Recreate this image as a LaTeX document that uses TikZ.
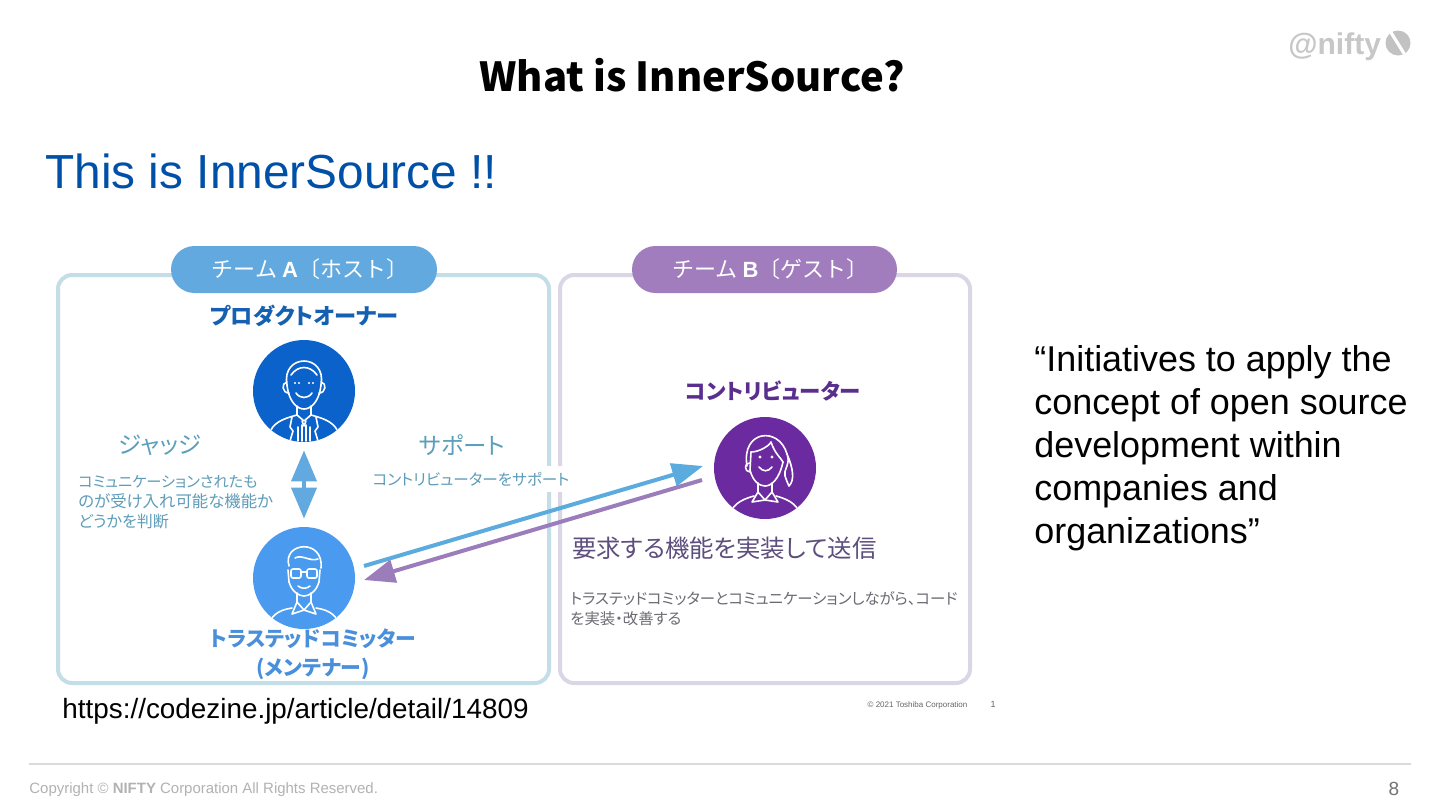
\documentclass[tikz,border=0pt]{standalone}
\usepackage{fontspec}
\usetikzlibrary{arrows.meta}
\setmainfont{Liberation Sans}
\newfontfamily\jpf[RawFeature=+palt]{Noto Sans CJK JP}
\newfontfamily\jpt{Noto Sans CJK JP}
\definecolor{boxa}{HTML}{C4DEE8}
\definecolor{boxb}{HTML}{DAD6E6}
\definecolor{pilla}{HTML}{62A9DF}
\definecolor{pillb}{HTML}{A17DBE}
\definecolor{cpo}{HTML}{0B62CB}
\definecolor{ctc}{HTML}{4A9BF0}
\definecolor{ccb}{HTML}{6B2AA0}
\definecolor{tpo}{HTML}{1560B0}
\definecolor{ttc}{HTML}{4A8FDB}
\definecolor{tcb}{HTML}{5A2E8F}
\definecolor{tlab}{HTML}{5A9FBC}
\definecolor{tbody}{HTML}{5E9CB8}
\definecolor{tgr}{HTML}{5E4E7E}
\definecolor{tgy}{HTML}{6A6A72}
\definecolor{arra}{HTML}{5CABDE}
\definecolor{arrb}{HTML}{9C7DBB}
\definecolor{titleblue}{HTML}{0050A8}
\tikzset{
  x=0.5pt,y=-0.5pt,
  panel/.style={rounded corners=7pt,line width=2pt},
  pill/.style={rounded corners=11.75pt,minimum height=23.5pt,text=white,inner sep=0pt,font=\jpt\fontsize{11}{12}\selectfont},
  person/.style={circle,minimum size=51pt,inner sep=0pt},
  face/.style={draw=white,line width=0.8pt,line cap=round,line join=round},
  jt/.style={inner sep=0pt,align=left,font=\jpf\fontsize{7.6}{10}\selectfont},
  lab/.style={inner sep=0pt,text=tlab,font=\jpf\fontsize{11.7}{13}\selectfont},
  qt/.style={inner sep=0pt,anchor=base west,font=\fontsize{17.95}{20}\selectfont},
}
\begin{document}
\begin{tikzpicture}
\useasboundingbox (0,0) rectangle (1440,810);
\fill[white] (0,0) rectangle (1440,810);
% header
\node[inner sep=0pt,font=\jpt\bfseries\fontsize{20}{26}\selectfont] (title) at (692,75) {What is InnerSource?};
\node[inner sep=0pt,anchor=base west,text=titleblue,font=\fontsize{23.9}{28}\selectfont] (sub) at (45,188) {This is InnerSource !!};
\node[inner sep=0pt,anchor=base west,text=black!22,font=\bfseries\fontsize{15}{18}\selectfont] (logo) at (1288,54) {@nifty};
\node[circle,fill=black!24,minimum size=12.5pt,inner sep=0pt] (logoc) at (1398,43) {};
\draw[white,line width=1.6pt] (1390,31) -- (1405,55);
% panels
\draw[panel,boxa] (58,275) rectangle (549,683);
\draw[panel,boxb] (560,275) rectangle (970,683);
\node[pill,fill=pilla,minimum width=133pt] (pa) at (304,269.5) {\hspace*{6pt}チーム {\rmfamily\bfseries A}〔ホスト〕};
\node[pill,fill=pillb,minimum width=132.5pt] (pb) at (764.5,269.5) {\hspace*{6pt}チーム {\rmfamily\bfseries B}〔ゲスト〕};
% people
\node[person,fill=cpo] (po) at (304,391) {};
\node[person,fill=ctc] (tc) at (304,578) {};
\node[person,fill=ccb] (cb) at (765,468) {};
% product owner face
\begin{scope}[shift={(304,391)}]
\clip (0,0) circle[radius=51];
\draw[face] (-17,-6) .. controls (-23,-38) and (23,-38) .. (17,-6);
\draw[face] (-17,-6) .. controls (-15,12) and (-6,18) .. (0,18) .. controls (6,18) and (15,12) .. (17,-6);
\draw[face] (-13,-16) .. controls (-6,-26) and (6,-26) .. (13,-16);
\draw[face] (-17,-9) .. controls (-23,-8) and (-22,2) .. (-15,2);
\draw[face] (17,-9) .. controls (23,-8) and (22,2) .. (15,2);
\fill[white] (-9,-8) circle[radius=1.2] (-5,-8) circle[radius=1.2] (5,-8) circle[radius=1.2] (9,-8) circle[radius=1.2];
\draw[face] (-8,2) .. controls (-4,8) and (4,8) .. (8,2);
\draw[face] (-7,15) -- (-7,24) -- (0,30) -- (7,24) -- (7,15);
\draw[face] (-7,24) .. controls (-22,28) and (-32,32) .. (-35,44);
\draw[face] (7,24) .. controls (22,28) and (32,32) .. (35,44);
\draw[face] (-12,26) -- (-14,36) -- (-11,40) -- (-14,50);
\draw[face] (12,26) -- (14,36) -- (11,40) -- (14,50);
\draw[face] (-6,36) -- (-6,50) (-2,34) -- (-2,50) (2,34) -- (2,50) (6,36) -- (6,50);
\draw[face] (-2,30) -- (0,35) -- (2,30);
\end{scope}
% trusted committer face
\begin{scope}[shift={(304,578)}]
\clip (0,0) circle[radius=51];
\draw[face] (-15,-12) .. controls (-22,-36) and (20,-40) .. (17,-10);
\draw[face] (-9,-20) .. controls (-2,-24) and (6,-16) .. (14,-19);
\draw[face] (-16,-8) -- (-15,4) .. controls (-12,14) and (-5,18) .. (0,18) .. controls (5,18) and (12,14) .. (15,4) -- (16,-8);
\draw[face,rounded corners=1pt] (-13,-9) rectangle (-3,0);
\draw[face,rounded corners=1pt] (3,-9) rectangle (13,0);
\draw[face] (-3,-6) -- (3,-6);
\draw[face] (-6,8) .. controls (-2,11) and (2,11) .. (6,8);
\draw[face] (-7,15) -- (-7,24) (7,15) -- (7,24);
\draw[face] (-7,24) -- (0,32) -- (7,24);
\draw[face] (-7,24) -- (-12,36) -- (0,32) -- (12,36) -- (7,24);
\draw[face] (-12,30) .. controls (-26,32) and (-34,38) .. (-36,50);
\draw[face] (12,30) .. controls (26,32) and (34,38) .. (36,50);
\end{scope}
% contributor face
\begin{scope}[shift={(765,468)}]
\clip (0,0) circle[radius=51];
\draw[face] (-18,-2) .. controls (-24,-38) and (14,-42) .. (22,-14);
\draw[face] (-14,-16) .. controls (-6,-16) and (4,-22) .. (6,-26);
\draw[face] (6,-26) .. controls (10,-14) and (16,-10) .. (18,-6);
\draw[face] (-14,-16) -- (-15,2) .. controls (-12,14) and (-5,18) .. (0,18) .. controls (6,18) and (14,12) .. (18,-6);
\draw[face] (-15,-5) .. controls (-21,-6) and (-21,4) .. (-15,4);
\draw[face] (22,-14) .. controls (26,-4) and (18,2) .. (20,8) .. controls (22,14) and (24,18) .. (24,18) .. controls (30,12) and (28,0) .. (22,-14);
\fill[white] (-5,-11) circle[radius=1.6] (7,-11) circle[radius=1.6];
\draw[face] (-6,-1) .. controls (-2,4) and (3,4) .. (7,-1);
\draw[face] (-7,15) -- (-7,24) (7,15) -- (7,24);
\draw[face] (-7,24) -- (0,32) -- (7,24);
\draw[face] (-7,24) -- (-13,34) -- (0,32) -- (13,34) -- (7,24);
\draw[face] (-11,28) .. controls (-26,32) and (-34,38) .. (-36,50);
\draw[face] (11,28) .. controls (26,32) and (34,38) .. (36,50);
\end{scope}
% team A texts
\node[inner sep=0pt,text=tpo,font=\jpf\bfseries\fontsize{11.1}{12}\selectfont] (tpot) at (304,316) {プロダクトオーナー};
\node[lab] (judge) at (160,445) {ジャッジ};
\node[lab] (supp) at (462,445) {サポート};
\node[jt,text=tbody,anchor=north west] (jbody) at (78,475) {コミュニケーションされたも\\{\fontsize{8.2}{10}\selectfont のが受け入れ可能な機能か}\\{\fontsize{8}{10}\selectfont どうかを判断}};
\node[jt,text=tbody,fill=white,inner ysep=3pt,font=\jpf\fontsize{7.8}{10}\selectfont] (sbody) at (471,479) {コントリビューターをサポート};
\node[inner sep=0pt,align=center,text=ttc,font=\jpf\bfseries\fontsize{10.4}{14.5}\selectfont] (ttc) at (313,654) {トラステッドコミッター\\(メンテナー)};
% team B texts
\node[inner sep=0pt,text=tcb,font=\jpf\bfseries\fontsize{10.7}{12}\selectfont] (tcbt) at (773,391) {コントリビューター};
\node[inner sep=0pt,anchor=west,text=tgr,font=\jpf\fontsize{12.2}{14}\selectfont] (req) at (572,548) {要求する機能を実装して送信};
\node[inner sep=0pt,anchor=north west,align=left,text=tgy,font=\jpf\fontsize{7.68}{10}\selectfont] (reqb) at (570,591) {トラステッドコミッターとコミュニケーションしながら、コード\\を実装・改善する};
\node[inner sep=0pt,text=black!60,font=\fontsize{4}{5}\selectfont] (cr) at (917.5,705) {© 2021 Toshiba Corporation};
\node[inner sep=0pt,text=black!60,font=\fontsize{4.5}{5}\selectfont] (crn) at (993,704) {1};
% connectors
\coordinate (as) at (364,566);
\coordinate (ae) at (703,466);
\coordinate (bs) at (702,480);
\coordinate (be) at (364,580);
\draw[arra,line width=2pt,-{Triangle[length=15.5pt,width=11.5pt]}] (as) -- (ae);
\draw[arrb,line width=2pt,-{Triangle[length=15.5pt,width=11.5pt]}] (bs) -- (be);
\draw[pilla,line width=2pt,shorten <=4pt,shorten >=4pt,{Triangle[length=15.5pt,width=12.5pt]}-{Triangle[length=15.5pt,width=12.5pt]}] (po) -- (tc);
% right quote and link
\node[inner sep=0pt,anchor=base west,font=\fontsize{13.93}{16}\selectfont] (url) at (62,718) {https://codezine.jp/article/detail/14809};
\node[qt] (q1) at (1034,371) {“Initiatives to apply the};
\node[qt] (q2) at (1034,414) {concept of open source};
\node[qt] (q3) at (1034,457) {development within};
\node[qt] (q4) at (1034,500) {companies and};
\node[qt] (q5) at (1034,543) {organizations”};
% footer
\coordinate (fl) at (29,764);
\coordinate (fr) at (1411,764);
\draw[black!14,line width=1pt] (fl) -- (fr);
\node[inner sep=0pt,anchor=base west,text=black!30,font=\fontsize{7.48}{9}\selectfont] (copy) at (29,793) {Copyright © \textbf{NIFTY} Corporation All Rights Reserved.};
\node[inner sep=0pt,text=black!55,font=\fontsize{9.5}{11}\selectfont] (pg) at (1394,789) {8};
\end{tikzpicture}
\end{document}
